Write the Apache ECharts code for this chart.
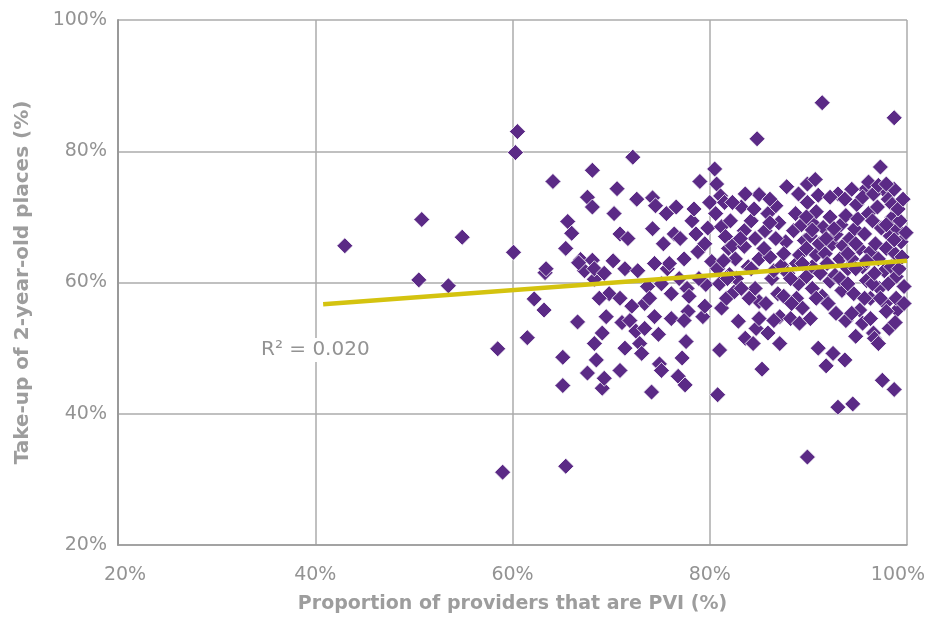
<!DOCTYPE html>
<html><head><meta charset="utf-8">
<script src="https://cdn.jsdelivr.net/npm/echarts@6/dist/echarts.min.js"></script>
<style>html,body{margin:0;padding:0;background:#fff}#c{width:940px;height:619px}</style>
</head><body><div id="c"></div>
<script>
// Proportion of providers that are PVI (%)
const pviShare = [
43.0,50.8,50.5,53.5,54.9,58.5,59.0,60.1,60.5,60.3,61.5,62.2,63.2,63.3,63.4,64.1,65.1,65.4,65.1,65.4,65.6,66.0,66.6,66.9,67.3,67.6,68.1,68.1,68.1,68.3,
67.6,68.3,68.5,69.1,69.3,69.1,69.5,69.8,70.3,70.6,70.9,71.4,70.2,70.9,71.1,71.4,71.7,71.9,72.2,72.6,72.5,72.9,73.1,73.4,73.7,73.9,74.2,74.1,74.2,74.5,
74.8,74.9,75.1,75.3,75.6,75.7,75.9,76.1,76.4,76.6,76.8,77.0,77.2,77.4,77.5,77.6,77.7,77.8,77.9,78.2,78.6,78.8,79.0,79.3,79.5,79.6,79.8,80.0,80.2,80.5,
80.7,80.8,80.8,81.0,81.0,81.1,81.2,81.2,81.5,81.6,81.7,81.9,82.0,82.1,82.3,82.5,82.7,82.9,83.2,83.5,83.5,83.6,83.9,84.2,84.2,84.4,84.6,84.8,84.7,85.0,
85.0,85.0,85.3,85.6,85.7,85.9,85.9,86.1,86.3,86.5,86.7,86.9,87.0,87.1,87.3,87.5,87.7,87.8,87.9,88.2,88.5,88.7,88.8,89.0,89.1,89.3,89.4,89.6,89.8,89.8,
89.9,89.9,90.2,90.4,90.4,90.6,90.8,90.8,91.0,91.0,91.1,91.2,91.4,91.4,91.5,91.7,91.8,91.9,92.2,92.2,92.4,92.5,92.7,92.8,93.0,93.2,93.3,93.4,93.5,93.7,
93.8,94.0,94.2,94.4,94.5,94.6,94.7,94.8,95.0,95.2,95.2,95.5,95.7,95.8,95.9,96.1,96.3,96.3,96.5,96.6,96.7,96.8,97.0,97.1,97.2,97.3,97.4,97.5,97.6,97.7,
97.8,97.9,98.1,98.2,98.3,98.4,98.5,98.7,98.7,98.7,98.8,98.9,99.0,99.0,99.2,99.3,99.4,99.5,99.7,
93.0,93.7,94.4,94.9,95.5,96.1,96.6,97.1,97.9,98.5,99.1,99.6,93.2,94.0,94.8,95.7,96.5,97.3,98.1,98.9,99.7,91.8,92.6,94.0,94.8,95.9,96.7,97.9,98.7,99.9,
92.0,92.8,93.8,94.4,95.5,96.3,97.1,97.9,98.8,89.8,90.4,89.4,88.8,88.2,87.5,86.7,86.1,85.5,84.6,84.0,83.2,82.6,81.8,81.4,85.0,86.5,87.1,88.3,89.1,90.2,
90.8,89.0,89.9,90.7,92.2,86.1,84.5,83.1,82.3,80.6,83.6,78.4,78.9,79.5,76.9,75.1,74.4,73.4,74.4,76.1,77.4,70.9,72.1,72.7,68.8,68.3,69.3,66.7
];
// Take-up of 2-year-old places (%)
const takeUp = [
65.6,69.6,60.4,59.5,66.9,49.9,31.1,64.6,83.0,79.8,51.6,57.5,55.8,61.5,62.1,75.4,48.6,32.0,44.3,65.2,69.3,67.5,54.0,63.5,61.8,73.0,71.5,77.1,63.4,60.5,
46.2,50.7,48.2,43.9,45.4,52.3,54.8,58.3,70.5,74.3,67.4,62.1,63.3,46.6,53.9,50.0,66.7,54.2,79.1,72.7,52.6,50.7,49.2,56.8,59.4,57.6,68.2,43.3,72.9,71.7,
52.1,47.6,46.6,65.9,70.5,62.1,62.9,58.3,67.4,71.5,45.7,66.7,48.5,63.6,44.4,51.0,59.1,55.6,57.9,69.4,67.4,64.7,75.4,54.8,56.4,59.7,68.3,72.2,63.2,77.3,
75.0,62.1,42.9,59.8,49.7,73.2,68.5,56.1,72.2,67.0,57.6,65.2,61.2,69.4,65.6,58.6,60.6,54.1,71.5,67.9,65.5,51.5,62.4,69.4,62.1,50.7,59.1,81.9,53.0,63.6,
73.4,57.1,46.8,67.9,56.8,70.5,52.3,63.9,60.6,61.8,71.7,58.3,69.1,54.8,62.6,57.9,66.2,74.6,61.4,54.5,67.9,70.5,62.9,59.8,64.2,68.8,56.1,66.4,65.2,60.9,
72.2,33.4,67.1,59.1,62.4,68.8,70.8,64.2,73.3,50.0,65.9,61.4,87.4,57.9,68.4,64.4,47.3,62.9,70.0,60.2,65.9,49.2,61.1,67.3,41.0,63.6,68.8,58.8,65.6,48.2,
70.2,62.1,66.7,63.6,41.5,58.3,68.2,51.8,69.7,65.2,55.8,62.4,67.4,74.2,60.3,70.5,64.7,57.6,69.4,52.3,51.5,65.9,71.5,63.6,59.1,77.6,68.3,45.1,74.2,61.8,
56.8,65.2,72.7,53.0,67.1,62.4,69.9,74.2,43.7,85.1,64.4,60.9,55.8,68.2,62.1,69.4,66.2,63.9,59.4,
73.5,72.7,74.2,71.9,73.0,75.3,73.5,74.8,75.0,71.9,71.2,72.7,60.6,59.8,62.1,57.6,59.8,57.6,59.8,57.6,56.8,66.7,68.2,64.4,65.9,63.3,61.4,68.8,66.5,67.6,
56.8,55.3,54.2,55.3,53.8,54.5,50.7,55.6,53.9,70.0,68.0,62.9,57.6,60.6,64.4,66.7,69.1,65.2,66.7,57.6,59.1,63.6,60.6,63.3,54.5,54.2,50.7,56.8,53.8,54.5,
57.6,73.5,75.0,75.7,73.0,72.7,71.2,66.7,72.2,70.5,73.5,71.2,60.6,65.9,60.6,59.8,62.9,53.0,54.8,54.5,54.2,57.6,56.4,61.8,57.6,62.1,61.4,63.0
];
// Linear trend line end points
const trendX = [40.8, 100];
const trendY = [56.7, 63.3];
const rSquaredLabel = 'R² = 0.020';
const axisTicks = [20, 40, 60, 80, 100];

const points = pviShare.map((x, i) => [x, takeUp[i]]);
const trend = trendX.map((x, i) => [x, trendY[i]]);

const chart = echarts.init(document.getElementById('c'));
const FONT = '"DejaVu Sans", sans-serif';
const LABEL_COLOR = '#939393';
const labelStyle = {color: LABEL_COLOR, fontSize: 19, fontFamily: FONT};
const nameStyle = {color: '#9d9d9d', fontWeight: 'bold', fontFamily: FONT};
const splitStyle = {show: true, lineStyle: {color: '#ababab', width: 1.5}};
chart.setOption({
  animation: false,
  grid: {left: 118, right: 33, top: 20, bottom: 72},
  xAxis: {
    type: 'value', min: axisTicks[0], max: axisTicks[axisTicks.length - 1], interval: 20,
    name: 'Proportion of providers that are PVI (%)', nameLocation: 'middle', nameGap: 50,
    nameTextStyle: Object.assign({fontSize: 19}, nameStyle),
    axisLine: {show: true, lineStyle: {color: '#999', width: 1.5}},
    axisTick: {show: false},
    axisLabel: Object.assign({
      margin: 21,
      formatter: v => v === axisTicks[0] ? '{first|' + v + '%}' : (v === axisTicks[axisTicks.length - 1] ? '{last|' + v + '%}' : v + '%'),
      rich: {
        first: {padding: [0, 0, 0, 14], color: LABEL_COLOR, fontSize: 19, fontFamily: FONT},
        last: {padding: [0, 18, 0, 0], color: LABEL_COLOR, fontSize: 19, fontFamily: FONT}
      }
    }, labelStyle),
    splitLine: splitStyle
  },
  yAxis: {
    type: 'value', min: axisTicks[0], max: axisTicks[axisTicks.length - 1], interval: 20,
    name: 'Take-up of 2-year-old places (%)', nameLocation: 'middle', nameGap: 85,
    nameTextStyle: Object.assign({fontSize: 20}, nameStyle),
    axisLine: {show: true, lineStyle: {color: '#999', width: 2}},
    axisTick: {show: false},
    axisLabel: Object.assign({formatter: '{value}%', margin: 11}, labelStyle),
    splitLine: splitStyle
  },
  series: [
    {
      type: 'scatter', data: points, symbol: 'diamond', symbolSize: 16,
      itemStyle: {color: '#5b2a86', borderColor: '#ffffff', borderWidth: 0.8, opacity: 1},
      z: 2
    },
    {
      type: 'line', data: trend, showSymbol: false, symbol: 'none',
      lineStyle: {color: '#d4c30f', width: 4.5}, z: 3
    }
  ],
  graphic: [{
    type: 'text', left: 259, top: 338, z: 10,
    style: {text: rSquaredLabel, fill: LABEL_COLOR, font: '20px "DejaVu Sans", sans-serif', backgroundColor: '#fff', padding: [2, 2]}
  }]
});
</script></body></html>
